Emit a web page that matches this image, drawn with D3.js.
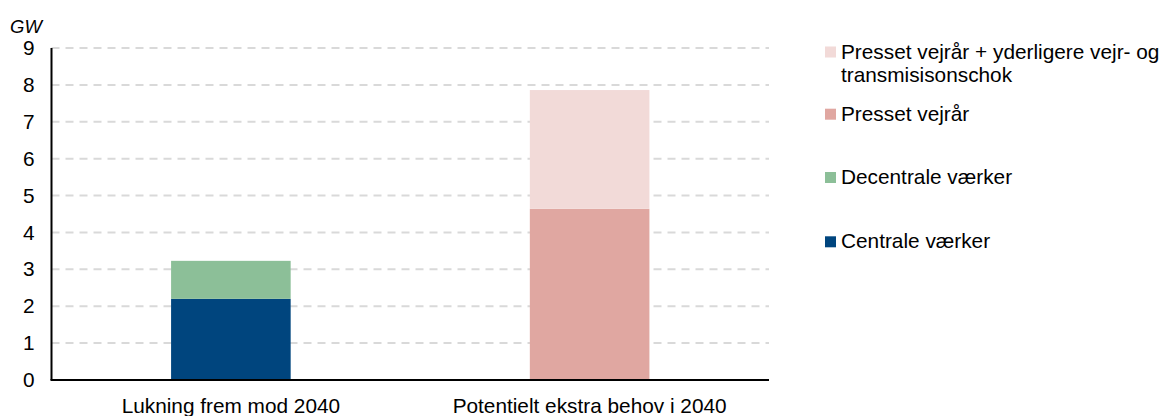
<!DOCTYPE html>
<html>
<head>
<meta charset="utf-8">
<script src="https://cdn.jsdelivr.net/npm/d3@7"></script>
<style>
  body { margin: 0; background: #fff; }
  svg { display: block; font-family: "Liberation Sans", Arial, sans-serif; }
</style>
</head>
<body>
<svg id="chart" width="1168" height="416"></svg>
<script>
const categories = ["Lukning frem mod 2040", "Potentielt ekstra behov i 2040"];
const seriesNames = ["Centrale værker", "Decentrale værker", "Presset vejrår", "Presset vejrår + yderligere vejr- og transmisisonschok"];
const centrale = [2.20, 0];
const decentrale = [1.03, 0];
const presset = [0, 4.64];
const pressetPlus = [0, 3.22];
const yTicks = [0, 1, 2, 3, 4, 5, 6, 7, 8, 9];
const colors = ["#00457E", "#8CBF98", "#E0A7A1", "#F2DAD8"];
const legendLines = [
  ["Presset vejrår + yderligere vejr- og", "transmisisonschok"],
  ["Presset vejrår"],
  ["Decentrale værker"],
  ["Centrale værker"]
];
const legendColorIdx = [3, 2, 1, 0];

(function () {
const svg = d3.select("#chart");
const mLeft = 51.5, mRight = 769, mTop = 48, mBottom = 380;
const fs = 20.8;

const x = d3.scaleBand().domain(categories).range([mLeft, mRight]).paddingInner(2/3).paddingOuter(1/3);
const y = d3.scaleLinear().domain([0, 9]).range([mBottom, mTop]);

// gridlines
svg.append("g").selectAll("line").data(yTicks.filter(d => d > 0)).join("line")
  .attr("x1", mLeft).attr("x2", mRight)
  .attr("y1", d => y(d)).attr("y2", d => y(d))
  .attr("stroke", "#d9d9d9").attr("stroke-width", 2).attr("stroke-dasharray", "8,6");

// stacked bars
const rows = categories.map((c, i) => ({cat: c, s0: centrale[i], s1: decentrale[i], s2: presset[i], s3: pressetPlus[i]}));
const stacked = d3.stack().keys(["s0", "s1", "s2", "s3"])(rows);
svg.append("g").selectAll("g").data(stacked).join("g")
  .attr("fill", (d, i) => colors[i])
  .selectAll("rect").data(d => d).join("rect")
  .attr("x", d => x(d.data.cat))
  .attr("width", x.bandwidth())
  .attr("y", d => y(d[1]))
  .attr("height", d => y(d[0]) - y(d[1]));

// y axis
const yAxis = d3.axisLeft(y).tickValues(yTicks).tickSize(0).tickPadding(17);
const gy = svg.append("g").attr("transform", `translate(${mLeft},0)`).call(yAxis);
gy.select(".domain").attr("stroke", "#000").attr("stroke-width", 2).attr("d", `M0,${mTop}V${mBottom}`);
gy.selectAll("text").attr("font-size", fs).attr("fill", "#000").attr("font-family", "Liberation Sans, Arial, sans-serif");

// x axis
const xAxis = d3.axisBottom(x).tickSize(0).tickPadding(18);
const gx = svg.append("g").attr("transform", `translate(0,${mBottom})`).call(xAxis);
gx.select(".domain").attr("stroke", "#000").attr("stroke-width", 2).attr("d", `M${mLeft - 1},0H${mRight}`);
gx.selectAll("text").attr("font-size", fs).attr("fill", "#000").attr("font-family", "Liberation Sans, Arial, sans-serif")
  .attr("dy", null).attr("y", 33);

// unit label
svg.append("text").attr("x", 10).attr("y", 33).attr("font-size", 18.5).attr("font-style", "italic").text("GW");

// legend
const legendBase = [58.5, 120.7, 184, 248.3];
const lg = svg.append("g");
legendLines.forEach((lines, i) => {
  const b = legendBase[i];
  lg.append("rect").attr("x", 825).attr("y", b - 12).attr("width", 11).attr("height", 11).attr("fill", colors[legendColorIdx[i]]);
  lines.forEach((t, j) => {
    lg.append("text").attr("x", 841).attr("y", b + j * 23.4).attr("font-size", fs).attr("fill", "#000").text(t);
  });
});
})();
</script>
</body>
</html>
